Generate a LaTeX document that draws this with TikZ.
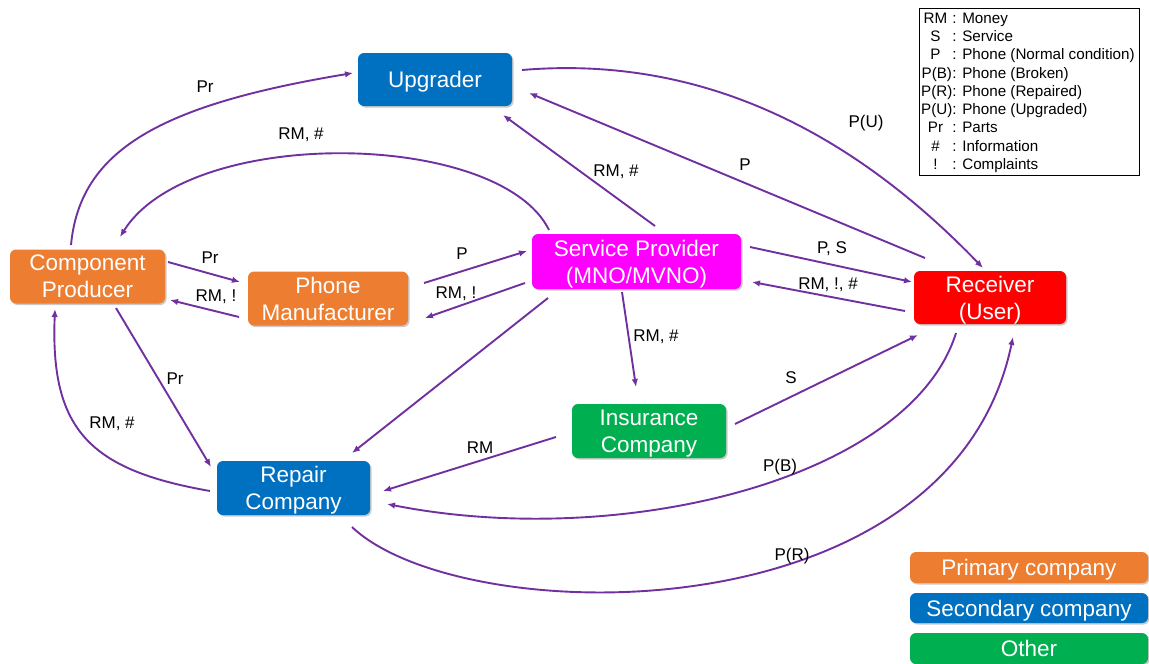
\documentclass[tikz,border=0pt]{standalone}
\usepackage{fontspec}
\setmainfont{Liberation Sans}
\usetikzlibrary{calc,arrows.meta,shadows}

\definecolor{flowpurple}{HTML}{7030A0}
\definecolor{primaryorange}{HTML}{ED7D31}
\definecolor{secondaryblue}{HTML}{0070C0}
\definecolor{othergreen}{HTML}{00B050}
\definecolor{providermagenta}{HTML}{FF00FF}
\definecolor{userred}{HTML}{FF0000}

\tikzset{
  box/.style={rounded corners=6pt, text=white, align=center, inner sep=0pt,
    font=\fontsize{22.5}{27}\selectfont, text depth=-3pt,
    drop shadow={shadow xshift=1.5pt, shadow yshift=-1.5pt, opacity=0.3, fill=black!70}},
  flow/.style={draw=flowpurple, line width=1.9pt, -{Latex[length=8pt,width=6.5pt]}},
  lbl/.style={font=\fontsize{17}{20}\selectfont, inner sep=0pt},
}

\begin{document}
\begin{tikzpicture}[x=1pt, y=-1pt]
  \useasboundingbox (0,0) rectangle (1149,664);

  % actors
  \node[box, fill=secondaryblue, minimum width=154pt, minimum height=53pt] (up) at (435,79.5) {Upgrader};
  \node[box, fill=primaryorange, minimum width=155pt, minimum height=54pt] (cp) at (87.5,276.5) {Component\\Producer};
  \node[box, fill=primaryorange, minimum width=160pt, minimum height=54pt] (pm) at (328,298.5) {Phone\\Manufacturer};
  \node[box, fill=providermagenta, minimum width=209pt, minimum height=55pt] (sp) at (636.5,261.5) {Service Provider\\(MNO/MVNO)};
  \node[box, fill=userred, minimum width=152pt, minimum height=53pt] (rc) at (990,297.5) {Receiver\\(User)};
  \node[box, fill=othergreen, minimum width=154pt, minimum height=54pt] (ic) at (649,431) {Insurance\\Company};
  \node[box, fill=secondaryblue, minimum width=153pt, minimum height=54pt] (rp) at (293.5,488) {Repair\\Company};

  % flows
  \draw[flow] ($(cp)+(-16.5,-31.5)$) .. controls +(9,-95) and +(-193,32) .. ($(up)+(-82,-6.5)$);
  \draw[flow] ($(sp)+(-87.5,-31.5)$) .. controls +(-49,-100) and +(70,-112) .. ($(cp)+(32.5,-39.5)$);
  \draw[flow] ($(sp)+(18.5,-35.5)$) -- ($(up)+(68,35.5)$);
  \draw[flow] ($(rc)+(-65,-39.5)$) -- ($(up)+(94,13.5)$);
  \draw[flow] ($(up)+(87,-9.5)$) .. controls +(178,-15) and +(-133,-138) .. ($(rc)+(-7,-29.5)$);
  \draw[flow] ($(cp)+(80.5,-14.5)$) -- ($(pm)+(-88,-16.5)$);
  \draw[flow] ($(pm)+(-89,18.5)$) -- ($(cp)+(82.5,23.5)$);
  \draw[flow] ($(pm)+(96,-15.5)$) -- ($(sp)+(-109.5,-10.5)$);
  \draw[flow] ($(sp)+(-111.5,21.5)$) -- ($(pm)+(97,19.5)$);
  \draw[flow] ($(sp)+(113.5,-14.5)$) -- ($(rc)+(-78,-15.5)$);
  \draw[flow] ($(rc)+(-85,13.5)$) -- ($(sp)+(115.5,20.5)$);
  \draw[flow] ($(sp)+(-14.5,30.5)$) -- ($(ic)+(-13,-44)$);
  \draw[flow] ($(sp)+(-88.5,36.5)$) -- ($(rp)+(58.5,-35)$);
  \draw[flow] ($(cp)+(28.5,31.5)$) -- ($(rp)+(-82.5,-21)$);
  \draw[flow] ($(rp)+(-83.5,3)$) .. controls +(-120,-21) and +(-5,121) .. ($(cp)+(-32.5,32.5)$);
  \draw[flow] ($(ic)+(-93,6)$) -- ($(rp)+(89.5,3)$);
  \draw[flow] ($(ic)+(86,-7)$) -- ($(rc)+(-72,37.5)$);
  \draw[flow] ($(rc)+(-34,35.5)$) .. controls +(-46,147) and +(233,46) .. ($(rp)+(93.5,16)$);
  \draw[flow] ($(rp)+(58.5,39)$) .. controls +(108,103) and +(-63,303) .. ($(rc)+(23,39.5)$);

  % flow labels
  \node[lbl] (l1) at (205,87) {Pr};
  \node[lbl] (l2) at (301,135) {RM, \#};
  \node[lbl] (l3) at (616,172) {RM, \#};
  \node[lbl] (l4) at (745,165) {P};
  \node[lbl] (l5) at (866,123) {P(U)};
  \node[lbl] (l6) at (210,258) {Pr};
  \node[lbl] (l7) at (216,297) {RM, !};
  \node[lbl] (l8) at (462,254) {P};
  \node[lbl] (l9) at (456,294) {RM, !};
  \node[lbl] (l10) at (832,249) {P, S};
  \node[lbl] (l11) at (828,285) {RM, !, \#};
  \node[lbl] (l12) at (656,337) {RM, \#};
  \node[lbl] (l13) at (175,379) {Pr};
  \node[lbl] (l14) at (112,424) {RM, \#};
  \node[lbl] (l15) at (480,448) {RM};
  \node[lbl] (l16) at (791,378) {S};
  \node[lbl] (l17) at (780,467) {P(B)};
  \node[lbl] (l18) at (792,556) {P(R)};

  % symbol key
  \node[draw=black, line width=1pt, minimum width=220pt, minimum height=167pt,
        anchor=north west, inner sep=0pt] (key) at (919,8) {};
  \node[anchor=north west, inner sep=0pt, font=\fontsize{15.2}{18.25}\selectfont] (keytext)
        at ($(key.north west)+(2,2.5)$) {%
    \begin{tabular}{@{}c@{}l@{}}
      RM\, & : Money\\
      S\,  & : Service\\
      P\,  & : Phone (Normal condition)\\
      P(B) & : Phone (Broken)\\
      P(R) & : Phone (Repaired)\\
      P(U) & : Phone (Upgraded)\\
      Pr\, & : Parts\\
      \#\, & : Information\\
      !\,  & : Complaints
    \end{tabular}};

  % colour key
  \node[box, fill=primaryorange, minimum width=238pt, minimum height=31pt] (kprim) at (1029,567.5) {Primary company};
  \node[box, fill=secondaryblue, minimum width=238pt, minimum height=30pt] (ksec) at (1029,608) {Secondary company};
  \node[box, fill=othergreen, minimum width=238pt, minimum height=31pt] (kother) at (1029,648.5) {Other};
\end{tikzpicture}
\end{document}
